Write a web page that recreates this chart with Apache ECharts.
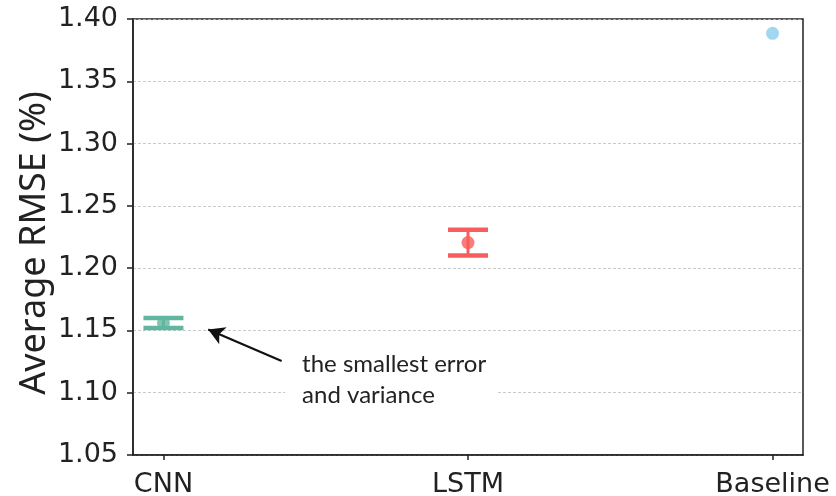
<!DOCTYPE html>
<html>
<head>
<meta charset="utf-8">
<script src="https://cdn.jsdelivr.net/npm/echarts@6/dist/echarts.min.js"></script>
<style>html,body{margin:0;padding:0;background:#fff;}#c{width:836px;height:496px;}</style>
</head>
<body>
<div id="c"></div>
<script>
const categories = ['CNN', 'LSTM', 'Baseline'];
const means = [1.156, 1.2205, 1.3885];
const errors = [0.004, 0.0103, 0];
const colors = ['#62b6a0', '#f95c5c', '#89cdee'];
const yTicks = [1.05, 1.10, 1.15, 1.20, 1.25, 1.30, 1.35, 1.40];
const yAxisName = 'Average RMSE (%)';
const annotationText = 'the smallest error\nand variance';

const chart = echarts.init(document.getElementById('c'), null, {renderer: 'canvas'});

const pointData = categories.map((c, i) => ({
  value: [i, means[i]],
  itemStyle: {color: colors[i]}
}));
const errData = [];
categories.forEach((c, i) => {
  if (errors[i] > 0) errData.push({value: [i, means[i] - errors[i], means[i] + errors[i]], itemStyle: {color: colors[i]}});
});

const option = {
  backgroundColor: '#fff',
  animation: false,
  grid: {left: 133, right: 33, top: 19, bottom: 41, show: true, borderColor: '#222', borderWidth: 1.5, backgroundColor: 'transparent', outerBoundsMode: 'none', containLabel: false},
  xAxis: {
    type: 'value', min: -0.1, max: 2.1,
    splitLine: {show: false},
    axisLine: {show: true, onZero: false, lineStyle: {color: '#222', width: 1.5}},
    axisTick: {show: true, length: 5, lineStyle: {color: '#222', width: 1.5}, customValues: [0, 1, 2]},
    axisLabel: {
      customValues: [0, 1, 2],
      formatter: v => categories[Math.round(v)] || '',
      fontFamily: '"DejaVu Sans"', fontSize: 27, color: '#222', margin: 16
    }
  },
  yAxis: {
    type: 'value', min: yTicks[0], max: yTicks[yTicks.length - 1], interval: 0.05,
    axisLine: {show: true, onZero: false, lineStyle: {color: '#222', width: 1.5}},
    axisTick: {show: true, length: 6, lineStyle: {color: '#222', width: 1.5}},
    axisLabel: {formatter: v => v.toFixed(2), fontFamily: '"DejaVu Sans"', fontSize: 27, color: '#222', margin: 15},
    splitLine: {show: true, lineStyle: {color: '#bbbbbb', type: [3, 2], width: 0.8}}
  },
  series: [
    {
      type: 'custom',
      data: errData,
      z: 3,
      renderItem: function (params, api) {
        const x = api.value(0);
        const lo = api.coord([x, api.value(1)]);
        const hi = api.coord([x, api.value(2)]);
        const col = api.visual('color');
        const cw = 20;
        return {
          type: 'group',
          children: [
            {type: 'line', shape: {x1: lo[0], y1: lo[1], x2: hi[0], y2: hi[1]}, style: {stroke: col, lineWidth: 3}},
            {type: 'line', shape: {x1: lo[0] - cw, y1: lo[1], x2: lo[0] + cw, y2: lo[1]}, style: {stroke: col, lineWidth: 4.5}},
            {type: 'line', shape: {x1: hi[0] - cw, y1: hi[1], x2: hi[0] + cw, y2: hi[1]}, style: {stroke: col, lineWidth: 4.5}}
          ]
        };
      }
    },
    {
      type: 'scatter',
      data: pointData,
      symbolSize: 13,
      z: 4,
      markLine: {
        silent: true,
        symbol: ['none', 'arrow'],
        symbolSize: [14, 16],
        label: {show: false},
        lineStyle: {color: '#111', width: 2.2, type: 'solid'},
        data: [[{coord: [0.388, 1.1254]}, {coord: [0.147, 1.1508]}]]
      }
    }
  ]
};
chart.setOption(option);

const p = chart.convertToPixel({gridIndex: 0}, [0.4553, 1.1103]);
chart.setOption({
  graphic: [{
    type: 'text', x: p[0] - 17, y: p[1], z: 10,
    style: {
      text: annotationText, font: '24px Lato', fill: '#222',
      lineHeight: 31, verticalAlign: 'middle', align: 'left',
      backgroundColor: '#fff', padding: [8, 12, 8, 17]
    }
  }, {
    type: 'text', x: 35, y: 243, rotation: Math.PI / 2, z: 10,
    style: {
      text: yAxisName, font: '36px "Noto Sans"', fill: '#222',
      align: 'center', verticalAlign: 'middle'
    }
  }]
});
</script>
</body>
</html>
